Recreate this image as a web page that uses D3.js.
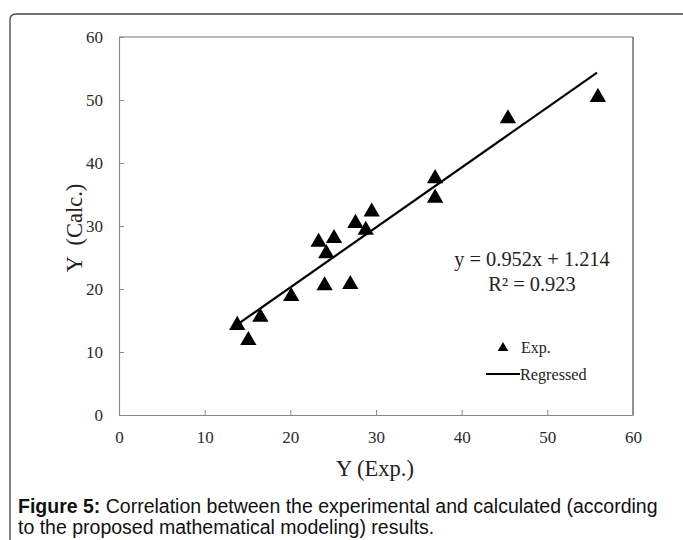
<!DOCTYPE html>
<html>
<head>
<meta charset="utf-8">
<script src="https://cdn.jsdelivr.net/npm/d3@7"></script>
<style>
  body { margin: 0; background: #fff; }
  svg { display: block; }
</style>
</head>
<body>
<svg width="683" height="540"></svg>
<script>
// experimental vs calculated values
var expValues  = [13.8, 15.1, 16.5, 20.1, 24.0, 23.3, 24.2, 25.1, 27.0, 27.6, 28.8, 29.5, 36.9, 36.9, 45.4, 55.9];
var calcValues = [14.4, 12.0, 15.7, 19.0, 20.7, 27.6, 25.8, 28.2, 20.9, 30.6, 29.5, 32.4, 37.7, 34.6, 47.2, 50.6];
var fitSlope = 0.952, fitIntercept = 1.214;
var fitRange = [14.0, 55.8];
var tickValues = [0, 10, 20, 30, 40, 50, 60];

var svg = d3.select("svg");
var serif = "'Liberation Serif', 'Times New Roman', serif";

// outer figure frame (rounded corner at top left, runs off the page)
svg.append("path")
    .attr("d", "M10,540 L10,20 Q10,14 16,14 L690,14")
    .attr("fill", "none")
    .attr("stroke", "#444")
    .attr("stroke-width", 1.3);

var margin = {left: 119, top: 37, right: 633, bottom: 415};

var x = d3.scaleLinear().domain([0, 60]).range([margin.left, margin.right]);
var y = d3.scaleLinear().domain([0, 60]).range([margin.bottom, margin.top]);

// top and right frame
svg.append("line")
    .attr("x1", margin.left).attr("x2", margin.right)
    .attr("y1", margin.top).attr("y2", margin.top)
    .attr("stroke", "#777").attr("stroke-width", 1.2);
svg.append("line")
    .attr("x1", margin.right).attr("x2", margin.right)
    .attr("y1", margin.top).attr("y2", margin.bottom)
    .attr("stroke", "#222").attr("stroke-width", 1);

var xAxis = svg.append("g")
    .attr("transform", "translate(0," + margin.bottom + ")")
    .call(d3.axisBottom(x).tickValues(tickValues).tickSizeInner(-5).tickSizeOuter(0).tickPadding(16));
var yAxis = svg.append("g")
    .attr("transform", "translate(" + margin.left + ",0)")
    .call(d3.axisLeft(y).tickValues(tickValues).tickSizeInner(-5).tickSizeOuter(0).tickPadding(16));

[xAxis, yAxis].forEach(function(g) {
    g.select(".domain").attr("stroke", "#888").attr("stroke-width", 1.2);
    g.selectAll(".tick line").attr("stroke", "#888");
    g.selectAll(".tick text")
        .attr("fill", "#2a2a2a")
        .style("font-family", serif)
        .style("font-size", "17px");
});
xAxis.selectAll(".tick text").filter(function(d) { return d === 0 || d === 60; })
    .attr("dy", "0.71em");

// regression line
var fitLine = d3.line()
    .x(function(d) { return x(d); })
    .y(function(d) { return y(fitSlope * d + fitIntercept); });
svg.append("path")
    .datum(fitRange)
    .attr("d", fitLine)
    .attr("fill", "none")
    .attr("stroke", "#000")
    .attr("stroke-width", 2.2);

// points
var tri = d3.symbol().type(d3.symbolTriangle).size(115);
svg.append("g")
    .selectAll("path")
    .data(expValues)
    .enter().append("path")
    .attr("d", tri)
    .attr("transform", function(d, i) {
        return "translate(" + x(d) + "," + (y(calcValues[i]) + 1) + ")";
    })
    .attr("fill", "#000");

// equation
svg.append("text")
    .attr("x", 532).attr("y", 266)
    .attr("text-anchor", "middle")
    .style("font-family", serif).style("font-size", "20.4px")
    .attr("fill", "#222")
    .text("y = " + fitSlope + "x + " + fitIntercept);
svg.append("text")
    .attr("x", 532).attr("y", 291)
    .attr("text-anchor", "middle")
    .style("font-family", serif).style("font-size", "20.4px")
    .attr("fill", "#222")
    .text("R² = 0.923");

// legend
svg.append("path")
    .attr("d", d3.symbol().type(d3.symbolTriangle).size(48))
    .attr("transform", "translate(503,348)")
    .attr("fill", "#000");
svg.append("text")
    .attr("x", 521).attr("y", 353)
    .style("font-family", serif).style("font-size", "16px")
    .attr("fill", "#222")
    .text("Exp.");
svg.append("line")
    .attr("x1", 486).attr("x2", 520)
    .attr("y1", 374).attr("y2", 374)
    .attr("stroke", "#000").attr("stroke-width", 2.2);
svg.append("text")
    .attr("x", 520).attr("y", 380)
    .style("font-family", serif).style("font-size", "16.2px")
    .attr("fill", "#222")
    .text("Regressed");

// axis titles
svg.append("text")
    .attr("x", 375).attr("y", 476)
    .attr("text-anchor", "middle")
    .style("font-family", serif).style("font-size", "22.5px")
    .attr("fill", "#222")
    .text("Y (Exp.)");
svg.append("text")
    .attr("transform", "translate(82,228) rotate(-90)")
    .attr("text-anchor", "middle")
    .style("font-family", serif).style("font-size", "22.5px")
    .attr("fill", "#222")
    .attr("xml:space", "preserve")
    .text("Y  (Calc.)");

// caption
var caption = svg.append("text")
    .style("font-family", "'Liberation Sans', Arial, sans-serif")
    .style("font-size", "19.5px")
    .attr("fill", "#111");
var l1 = caption.append("tspan").attr("x", 18).attr("y", 513);
l1.append("tspan").style("font-weight", "bold").text("Figure 5:");
l1.append("tspan").text(" Correlation between the experimental and calculated (according");
caption.append("tspan").attr("x", 18).attr("y", 534)
    .text("to the proposed mathematical modeling) results.");
</script>
</body>
</html>
